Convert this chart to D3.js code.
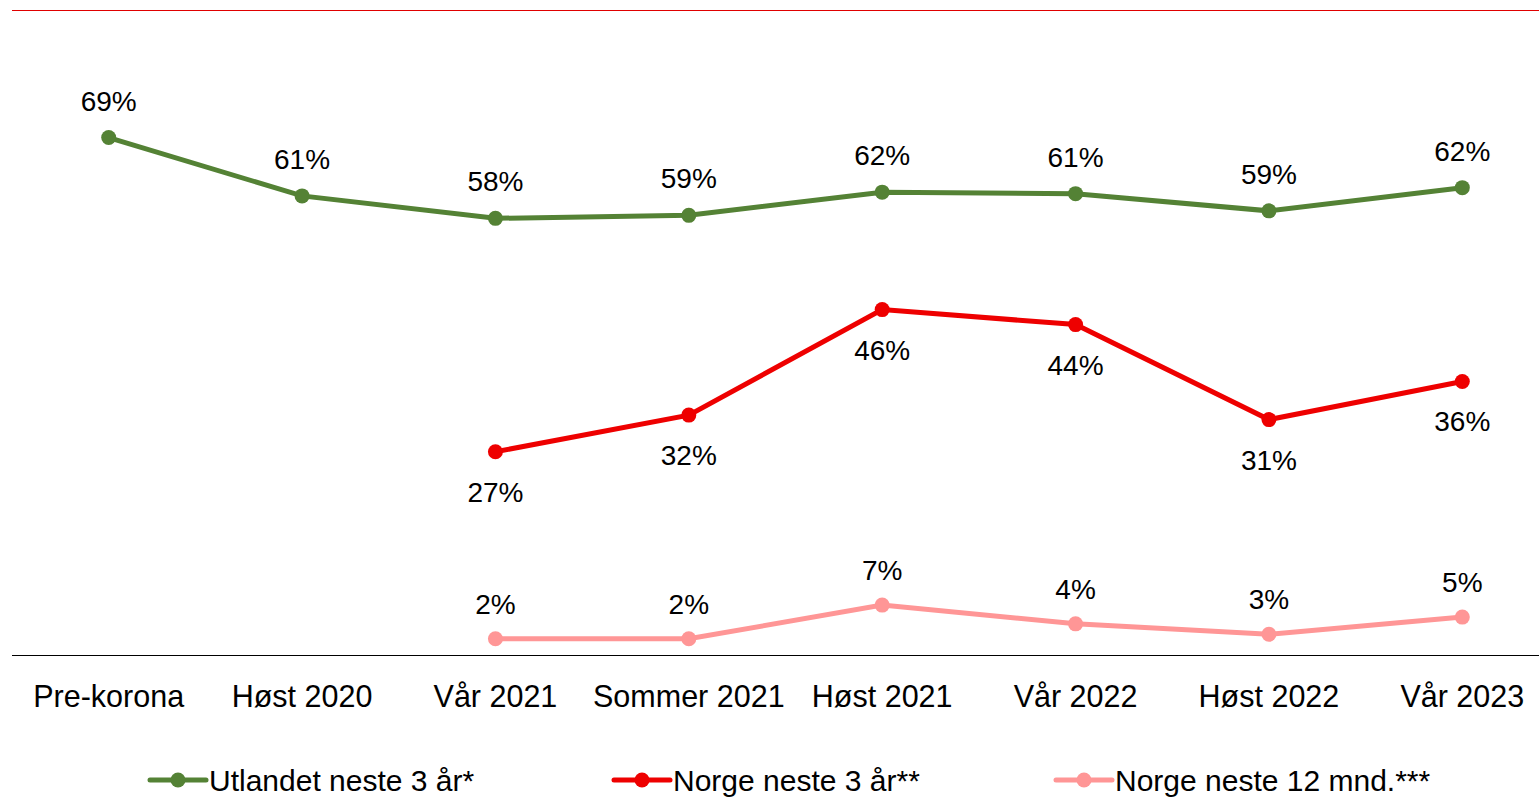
<!DOCTYPE html>
<html>
<head>
<meta charset="utf-8">
<script src="https://cdn.jsdelivr.net/npm/d3@7"></script>
<style>
  body { margin: 0; background: #fff; }
  text { font-family: "Liberation Sans", Arial, sans-serif; fill: #000; }
</style>
</head>
<body>
<script>
// chart data

const categories = ["Pre-korona", "Høst 2020", "Vår 2021", "Sommer 2021",
                    "Høst 2021", "Vår 2022", "Høst 2022", "Vår 2023"];

const utlandet = [69.1, 61.3, 58.3, 58.7, 61.8, 61.6, 59.3, 62.4];
const utlandetLabels = ["69%", "61%", "58%", "59%", "62%", "61%", "59%", "62%"];

const norge3 = [null, null, 27.1, 32.0, 46.1, 44.1, 31.4, 36.5];
const norge3Labels = [null, null, "27%", "32%", "46%", "44%", "31%", "36%"];

const norge12 = [null, null, 2.1, 2.1, 6.6, 4.1, 2.7, 5.0];
const norge12Labels = [null, null, "2%", "2%", "7%", "4%", "3%", "5%"];

const seriesNames = ["Utlandet neste 3 år*", "Norge neste 3 år**", "Norge neste 12 mnd.***"];

const w = 1539;
const h = 798;

const xScale = d3.scaleBand()
    .domain(categories)
    .range([12, 1559])
    .padding(0);

const yScale = d3.scaleLinear()
    .domain([0, 80])
    .range([654.5, 56]);

const series = [
  {name: seriesNames[0], values: utlandet, labels: utlandetLabels, color: "#548235", labelDy: -27},
  {name: seriesNames[1], values: norge3, labels: norge3Labels, color: "#EE0000", labelDy: 50},
  {name: seriesNames[2], values: norge12, labels: norge12Labels, color: "#FF9696", labelDy: -25}
];

const svg = d3.select("body")
  .append("svg")
    .attr("width", w)
    .attr("height", h);

// top rule
svg.append("line")
    .attr("x1", 12).attr("x2", w)
    .attr("y1", 10.5).attr("y2", 10.5)
    .attr("stroke", "#E00000")
    .attr("stroke-width", 1);

// x axis
const xAxis = d3.axisBottom(xScale).tickSize(0).tickPadding(30);
const gx = svg.append("g")
    .attr("transform", `translate(0, ${Math.round(yScale(0)) + 0.5})`)
    .call(xAxis);
gx.select(".domain").remove();
gx.append("line")
    .attr("x1", 12).attr("x2", w)
    .attr("y1", 0).attr("y2", 0)
    .attr("stroke", "#000")
    .attr("stroke-width", 1);
gx.selectAll(".tick text")
    .attr("font-size", 30.5)
    .attr("font-family", "Liberation Sans, Arial, sans-serif")
    .attr("fill", "#000");

const cx = d => xScale(d) + xScale.bandwidth() / 2;

const line = d3.line()
    .defined(d => d.v != null)
    .x(d => cx(d.c))
    .y(d => yScale(d.v));

series.forEach(s => {
  const pts = categories.map((c, i) => ({c: c, v: s.values[i], label: s.labels[i]}));
  const g = svg.append("g");

  g.append("path")
      .datum(pts)
      .attr("d", line)
      .attr("fill", "none")
      .attr("stroke", s.color)
      .attr("stroke-width", 5);

  const valid = pts.filter(d => d.v != null);

  g.selectAll("circle")
    .data(valid)
    .enter().append("circle")
      .attr("cx", d => cx(d.c))
      .attr("cy", d => yScale(d.v))
      .attr("r", 7.5)
      .attr("fill", s.color);

  g.selectAll("text")
    .data(valid)
    .enter().append("text")
      .attr("x", d => cx(d.c))
      .attr("y", d => yScale(d.v) + s.labelDy)
      .attr("text-anchor", "middle")
      .attr("font-size", 28)
      .text(d => d.label);
});

// legend
const legendX = [150, 614, 1056];
const legend = svg.append("g");
series.forEach((s, i) => {
  const lg = legend.append("g").attr("transform", `translate(${legendX[i]}, 780)`);
  lg.append("line")
      .attr("x1", 0).attr("x2", 56)
      .attr("stroke", s.color)
      .attr("stroke-width", 5)
      .attr("stroke-linecap", "round");
  lg.append("circle")
      .attr("cx", 28).attr("r", 7.5)
      .attr("fill", s.color);
  lg.append("text")
      .attr("x", 59)
      .attr("y", 10.5)
      .attr("font-size", 30)
      .text(s.name);
});
</script>
</body>
</html>
